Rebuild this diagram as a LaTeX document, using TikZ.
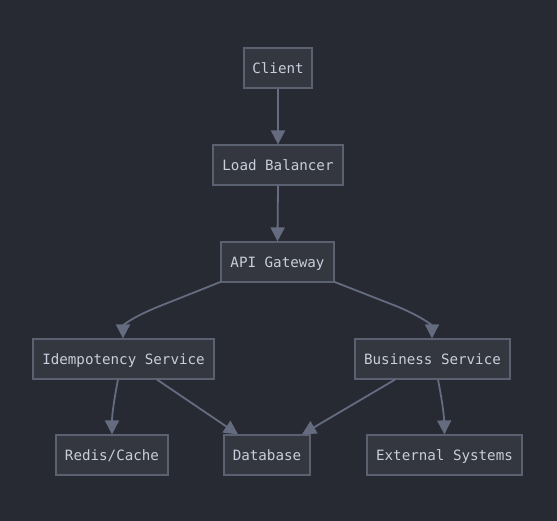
\documentclass[tikz,border=0pt]{standalone}
\usepackage{fontspec}
\setmonofont{DejaVu Sans Mono}
\usetikzlibrary{arrows.meta}
\definecolor{bgc}{HTML}{282A33}
\definecolor{nodefill}{HTML}{343640}
\definecolor{nodeline}{HTML}{5C6172}
\definecolor{txtc}{HTML}{C8CFDA}
\definecolor{edgec}{HTML}{656C80}
\begin{document}
\begin{tikzpicture}[x=1pt,y=-1pt,
  box/.style={draw=nodeline, fill=nodefill, line width=1.2pt, inner sep=0pt,
    text=txtc, font=\ttfamily\fontsize{14.2}{16}\selectfont, text height=14pt, text depth=3pt,
    minimum height=40pt, anchor=center},
  conn/.style={draw=edgec, line width=1.8pt, -{Triangle[length=14pt,width=14pt]}}]
\fill[bgc] (0,0) rectangle (557,521);
\useasboundingbox (0,0) rectangle (557,521);
\node[box, minimum width=68pt] (client) at (278,68) {Client};
\node[box, minimum width=130pt] (lb) at (278,165) {Load Balancer};
\node[box, minimum width=113pt] (api) at (277.5,262) {API Gateway};
\node[box, minimum width=181pt] (idem) at (123.5,359) {Idempotency Service};
\node[box, minimum width=155pt] (bus) at (432.5,359) {Business Service};
\node[box, minimum width=112pt] (redis) at (112,455) {Redis/Cache};
\node[box, minimum width=86pt] (db) at (267,455) {Database};
\node[box, minimum width=155pt] (ext) at (444.5,455) {External Systems};
\draw[conn] (client.south) -- (lb.north);
\draw[conn] (lb.south) -- (api.north);
\draw[conn] (api.south west) ++(1,-1) coordinate (a1) (a1) -- (160,306) .. controls (130,318) and (123,326) .. (idem.north -| 123,0);
\draw[conn] (api.south east) ++(-1,-1) coordinate (a2) (a2) -- (396,306) .. controls (425,318) and (432,326) .. (bus.north -| 432,0);
\draw[conn] (idem.south -| 118,0) .. controls (114,400) and (112,415) .. (redis.north);
\draw[conn] (idem.south -| 157,0) -- (db.north -| 238,0);
\draw[conn] (bus.south -| 395,0) -- (db.north -| 302,0);
\draw[conn] (bus.south -| 438,0) .. controls (442,400) and (444,415) .. (ext.north);
\end{tikzpicture}
\end{document}
